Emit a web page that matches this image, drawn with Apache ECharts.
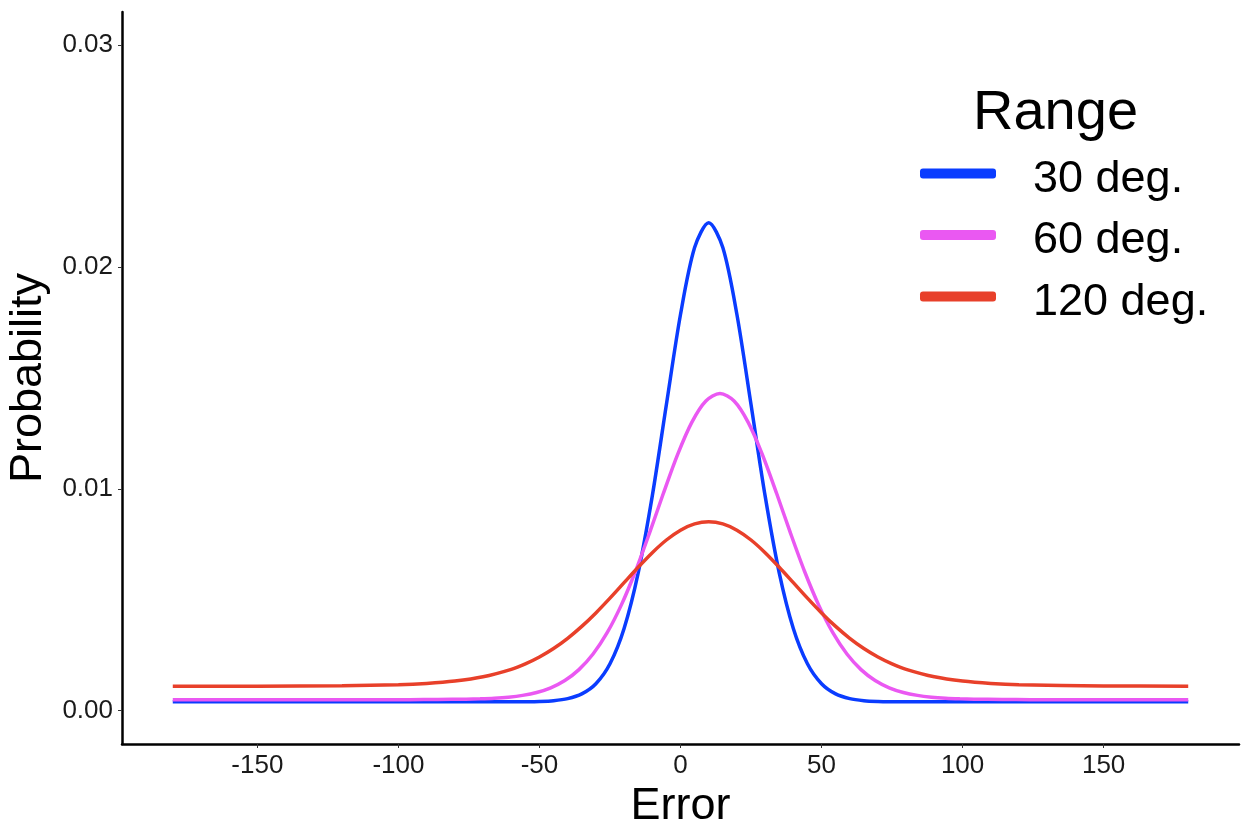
<!DOCTYPE html>
<html>
<head>
<meta charset="utf-8">
<script src="https://cdn.jsdelivr.net/npm/echarts@6/dist/echarts.min.js"></script>
<style>
html,body{margin:0;padding:0;background:#fff;}
#chart{width:1243px;height:822px;}
</style>
</head>
<body>
<div id="chart"></div>
<script>
// Shared error grid for the 30 deg. and 120 deg. curves
var errorGrid = [-180,-150,-120,-100,-90,-80,-70,-60,-55,-50,-45,-40,-35,-30,-25,-20,-15,-10,-5,0,5,10,15,20,25,30,35,40,45,50,55,60,65,70,75,80,90,100,110,120,150,180];
var prob30 = [0.0004,0.0004,0.0004,0.0004,0.0004,0.0004,0.0004,0.000402,0.000407,0.00042,0.000455,0.000545,0.000758,0.001217,0.002118,0.00371,0.006218,0.009685,0.013806,0.017862,0.02088,0.022,0.02088,0.017862,0.013806,0.009685,0.006218,0.00371,0.002118,0.001217,0.000758,0.000545,0.000455,0.00042,0.000407,0.000402,0.0004,0.0004,0.0004,0.0004,0.0004,0.0004];
var prob120 = [0.001108,0.001109,0.001126,0.001172,0.001229,0.001336,0.001529,0.001867,0.002112,0.002422,0.002804,0.003264,0.003801,0.00441,0.005076,0.005774,0.00647,0.007126,0.007697,0.008141,0.008423,0.00852,0.008423,0.008141,0.007697,0.007126,0.00647,0.005774,0.005076,0.00441,0.003801,0.003264,0.002804,0.002422,0.002112,0.001867,0.001529,0.001336,0.001229,0.001172,0.001117,0.001108];
// 60 deg. curve read on its own grid (peak near 14)
var errorGrid60 = [-180,-150,-120,-96,-86,-76,-71,-66,-61,-56,-51,-46,-41,-36,-31,-26,-21,-16,-11,-6,-1,4,9,14,19,24,29,34,39,44,49,54,59,64,69,74,79,84,89,94,99,104,114,124,150,180];
var prob60 = [0.0005,0.0005,0.0005,0.0005,0.000507,0.000521,0.000537,0.000564,0.000612,0.000692,0.000823,0.001035,0.001363,0.001854,0.002557,0.003516,0.00476,0.006277,0.008006,0.009825,0.011558,0.013002,0.013963,0.0143,0.013963,0.013002,0.011558,0.009825,0.008006,0.006277,0.00476,0.003516,0.002557,0.001854,0.001363,0.001035,0.000823,0.000692,0.000612,0.000564,0.000537,0.000521,0.000507,0.0005,0.0005,0.0005];

var seriesNames = ['30 deg.', '60 deg.', '120 deg.'];
var seriesColors = ['#0A3CFF', '#EA58F2', '#E8402A'];
var xTicks = [-150,-100,-50,0,50,100,150];
var yTicks = [0, 0.01, 0.02, 0.03];
var yTickLabels = ['0.00', '0.01', '0.02', '0.03'];

function pairs(xs, ys){ return xs.map(function(x,i){ return [x, ys[i]]; }); }

var chart = echarts.init(document.getElementById('chart'), null, {renderer:'canvas'});
var font = 'Liberation Sans, Arial, Helvetica, sans-serif';
// rounded bar in the upper part of the icon box, so the key line sits slightly above the label centre
var legendIcon = 'path://M3,0 L73,0 Q76,0 76,3 L76,7 Q76,10 73,10 L3,10 Q0,10 0,7 L0,3 Q0,0 3,0 Z M0,22';
function mkSeries(i, xs, ys){
  return {
    name: seriesNames[i], type: 'line', data: pairs(xs, ys),
    showSymbol: false, smooth: 0.3, animation: false,
    lineStyle: {color: seriesColors[i], width: 3.5},
    itemStyle: {color: seriesColors[i]}
  };
}
chart.setOption({
  animation: false,
  backgroundColor: '#ffffff',
  textStyle: {fontFamily: font},
  title: {
    text: 'Range', left: 973, top: 86, padding: 0,
    textStyle: {fontSize: 56, fontWeight: 'normal', color: '#000', fontFamily: font}
  },
  legend: {
    data: seriesNames, orient: 'vertical', left: 920, top: 157, padding: 0,
    itemWidth: 76, itemHeight: 22, itemGap: 16.5, icon: legendIcon,
    textStyle: {fontSize: 45, lineHeight: 44, color: '#000', fontFamily: font, padding: [0,0,0,32]}
  },
  grid: {left: 122, right: 4, top: 12, bottom: 78, containLabel: false, outerBoundsMode: 'none'},
  xAxis: {
    type: 'value', min: -198, max: 198,
    name: 'Error', nameLocation: 'middle', nameGap: 33,
    nameTextStyle: {fontSize: 45, color: '#000', fontFamily: font},
    axisLine: {show: true, onZero: false, lineStyle: {color: '#000', width: 2.5}},
    axisTick: {show: true, length: 4, lineStyle: {color: '#333'}, customValues: xTicks},
    axisLabel: {fontSize: 26, color: '#1a1a1a', margin: 9, customValues: xTicks, fontFamily: font},
    splitLine: {show: false}
  },
  yAxis: {
    type: 'value', min: -0.0015, max: 0.0315,
    name: 'Probability', nameLocation: 'middle', nameGap: 68,
    nameTextStyle: {fontSize: 45, color: '#000', fontFamily: font},
    axisLine: {show: true, onZero: false, lineStyle: {color: '#000', width: 2.5}},
    axisTick: {show: true, length: 4, lineStyle: {color: '#333'}, customValues: yTicks},
    axisLabel: {fontSize: 26, color: '#1a1a1a', margin: 9, customValues: yTicks, fontFamily: font,
      formatter: function(v){ var i = yTicks.indexOf(v); return i >= 0 ? yTickLabels[i] : v.toFixed(2); }},
    splitLine: {show: false}
  },
  series: [
    mkSeries(0, errorGrid, prob30),
    mkSeries(1, errorGrid60, prob60),
    mkSeries(2, errorGrid, prob120)
  ]
});
</script>
</body>
</html>
